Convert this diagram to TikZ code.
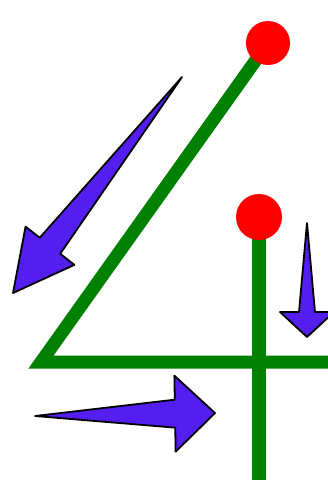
\documentclass[tikz,border=0pt]{standalone}
\usetikzlibrary{calc}
\definecolor{strokegreen}{RGB}{0,128,0}
\definecolor{dotred}{RGB}{255,0,0}
\definecolor{arrowblue}{RGB}{84,30,240}
\tikzset{
  stroke/.style={draw=strokegreen, line width=13pt, line join=miter},
  startdot/.style={fill=dotred},
  guidearrow/.style={fill=arrowblue, draw=black, line width=1.8pt, line join=round}
}
\newcommand\guidearrowpath[5]{%
  \coordinate (H) at ($(#2)!#3!(#1)$);
  \path[guidearrow] (#1) -- ($(H)!#4!90:(#2)$) -- ($(H)!#5!90:(#2)$) -- (#2)
    -- ($(H)!#5!-90:(#2)$) -- ($(H)!#4!-90:(#2)$) -- cycle;}
\begin{document}
\begin{tikzpicture}[x=1pt,y=-1pt]
\useasboundingbox (0,0) rectangle (328,480);
% strokes
\coordinate (s1) at (268,43);
\coordinate (c1) at (41,362);
\coordinate (e1) at (330,362);
\coordinate (s2) at (259,217);
\coordinate (e2) at (259,482);
\draw[stroke] (s1) -- (c1) -- (e1);
\draw[stroke, line width=14pt] (s2) -- (e2);
\fill[startdot] (s1) circle (22);
\fill[startdot] (s2) circle (23);
% arrows
\coordinate (t1) at (182,77);
\coordinate (p1) at (13,293);
\guidearrowpath{t1}{p1}{60pt}{13pt}{31pt}
\coordinate (t2) at (307,223);
\coordinate (p2) at (307,337);
\guidearrowpath{t2}{p2}{25pt}{8pt}{27pt}
\coordinate (t3) at (35,416);
\coordinate (p3) at (215,413);
\guidearrowpath{t3}{p3}{40pt}{14pt}{38pt}
\end{tikzpicture}
\end{document}
